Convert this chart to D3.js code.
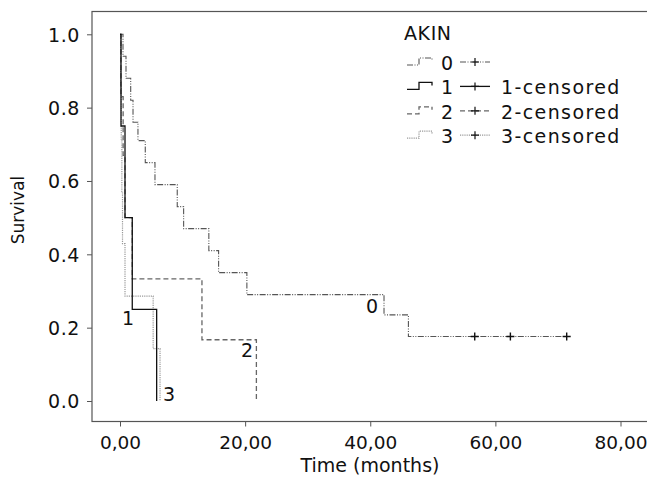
<!DOCTYPE html>
<html>
<head>
<meta charset="utf-8">
<script src="https://cdn.jsdelivr.net/npm/d3@7"></script>
<style>
  body { margin: 0; background: #fff; }
  svg text { font-family: "DejaVu Sans", sans-serif; font-size: 19px; fill: #111; letter-spacing: 0.6px; }
</style>
</head>
<body>
<div id="chart"></div>
<script>
// Kaplan-Meier steps (time in months, survival)
const akin0Time = [0, 0.48, 0.96, 1.71, 2.08, 2.87, 4.04, 5.59, 9.15, 10.17, 14.2, 15.76, 20.28, 42.2, 46.1, 71.4];
const akin0Surv = [1.0, 0.94, 0.88, 0.82, 0.76, 0.71, 0.65, 0.59, 0.53, 0.47, 0.41, 0.35, 0.29, 0.235, 0.176, 0.176];
const akin0Censored = [56.7, 62.4, 71.4];

const akin1Time = [0, 0.16, 0.8, 1.96, 5.86];
const akin1Surv = [1.0, 0.75, 0.5, 0.25, 0];

const akin2Time = [0, 0.15, 0.5, 0.8, 1.96, 13.1, 21.8];
const akin2Surv = [1.0, 0.83, 0.67, 0.5, 0.333, 0.167, 0];

const akin3Time = [0, 0.1, 0.2, 0.3, 0.4, 0.8, 5.3, 6.4];
const akin3Surv = [1.0, 0.857, 0.714, 0.571, 0.429, 0.286, 0.143, 0];

const xTicks = [0, 20, 40, 60, 80];
const yTicks = [0, 0.2, 0.4, 0.6, 0.8, 1.0];
const groupLabels = ["0", "1", "2", "3"];
const censorLabels = ["", "1-censored", "2-censored", "3-censored"];

const W = 647, H = 485;

// line look for each group: dash-dot-dot, solid, dashed, dotted
const STYLE = [
  {stroke: "#555", width: 1.1, dash: "6,1.5,1,1.5,1,1.5"},
  {stroke: "#111", width: 1.3, dash: null},
  {stroke: "#666", width: 1.3, dash: "5,3"},
  {stroke: "#999", width: 1.2, dash: "1.2,1"}
];

var svg = d3.select("#chart").append("svg")
    .attr("width", W).attr("height", H);

var xScale = d3.scaleLinear().domain([0, 80]).range([120, 620.5]);
var yScale = d3.scaleLinear().domain([0, 1]).range([401, 34.3]);

// frame
svg.append("rect")
    .attr("x", 92).attr("y", 11.5)
    .attr("width", 560).attr("height", 410)
    .attr("fill", "none").attr("stroke", "#555").attr("stroke-width", 1.2);

var xAxis = d3.axisBottom(xScale).tickValues(xTicks).tickSize(5).tickPadding(9)
    .tickFormat(d => d3.format(".2f")(d).replace(".", ","));
var yAxis = d3.axisLeft(yScale).tickValues(yTicks).tickSize(5).tickPadding(7)
    .tickFormat(d3.format(".1f"));

var gx = svg.append("g").attr("transform", "translate(0,421.5)").call(xAxis);
var gy = svg.append("g").attr("transform", "translate(92,0)").call(yAxis);
[gx, gy].forEach(function(g) {
  g.select(".domain").remove();
  g.selectAll("line").attr("stroke", "#555");
  g.selectAll("text").attr("font-family", null).attr("font-size", null).attr("fill", "#111");
});
gx.selectAll("text").style("letter-spacing", "0px").style("font-size", "18.5px");
gy.selectAll("text").attr("dy", "0.36em");

svg.append("text")
    .attr("transform", "translate(24,210) rotate(-90)")
    .attr("text-anchor", "middle")
    .style("font-size", "17px").style("letter-spacing", "0px")
    .text("Survival");
svg.append("text")
    .attr("x", 370).attr("y", 472)
    .attr("text-anchor", "middle")
    .style("letter-spacing", "0px")
    .text("Time (months)");

var line = d3.line()
    .x(d => xScale(d[0]))
    .y(d => yScale(d[1]))
    .curve(d3.curveStepAfter);

var groups = [
  d3.zip(akin0Time, akin0Surv),
  d3.zip(akin1Time, akin1Surv),
  d3.zip(akin2Time, akin2Surv),
  d3.zip(akin3Time, akin3Surv)
];

// draw 3,2,0 then 1 on top
[3, 2, 0, 1].forEach(function(i) {
  var p = svg.append("path")
      .attr("d", line(groups[i]))
      .attr("fill", "none")
      .attr("stroke", STYLE[i].stroke)
      .attr("stroke-width", STYLE[i].width);
  if (STYLE[i].dash) p.attr("stroke-dasharray", STYLE[i].dash);
});

// censor marks on group 0
svg.selectAll(".cens")
  .data(akin0Censored)
  .enter().append("path")
    .attr("class", "cens")
    .attr("d", function(d) {
      var x = xScale(d), y = yScale(akin0Surv[akin0Surv.length - 1]);
      return "M" + (x - 4) + "," + y + "H" + (x + 4) + "M" + x + "," + (y - 4) + "V" + (y + 4);
    })
    .attr("stroke", "#111").attr("stroke-width", 1.4);

// curve labels at the end of each curve
var curveLabels = [
  {g: 0, x: 366, y: 313},
  {g: 1, x: 122, y: 325},
  {g: 2, x: 241, y: 357},
  {g: 3, x: 163, y: 401}
];
svg.selectAll(".clab")
  .data(curveLabels)
  .enter().append("text")
    .attr("class", "clab")
    .attr("x", d => d.x).attr("y", d => d.y)
    .text(d => groupLabels[d.g]);

// legend
var legend = svg.append("g").attr("transform", "translate(404,0)");
legend.append("text").attr("x", 0).attr("y", 40).text("AKIN");

var rows = legend.selectAll(".row")
  .data(groupLabels)
  .enter().append("g")
    .attr("class", "row")
    .attr("transform", (d, i) => "translate(0," + (70 + i * 24.4) + ")");

rows.append("path")
    .attr("d", "M3,-5H15V-12H28V-9")
    .attr("fill", "none")
    .attr("stroke", (d, i) => STYLE[i].stroke)
    .attr("stroke-width", (d, i) => STYLE[i].width)
    .attr("stroke-dasharray", (d, i) => STYLE[i].dash);

rows.append("text").attr("x", 37).attr("y", 0).text(d => d);

rows.append("path")
    .attr("d", "M56,-8H86")
    .attr("fill", "none")
    .attr("stroke", (d, i) => STYLE[i].stroke)
    .attr("stroke-width", (d, i) => STYLE[i].width)
    .attr("stroke-dasharray", (d, i) => STYLE[i].dash);
rows.append("path")
    .attr("d", "M67,-8H75M71,-12V-4")
    .attr("stroke", "#111").attr("stroke-width", 1.2);

rows.append("text").attr("x", 97).attr("y", 0)
    .style("letter-spacing", "1.4px")
    .text((d, i) => censorLabels[i]);
</script>
</body>
</html>
